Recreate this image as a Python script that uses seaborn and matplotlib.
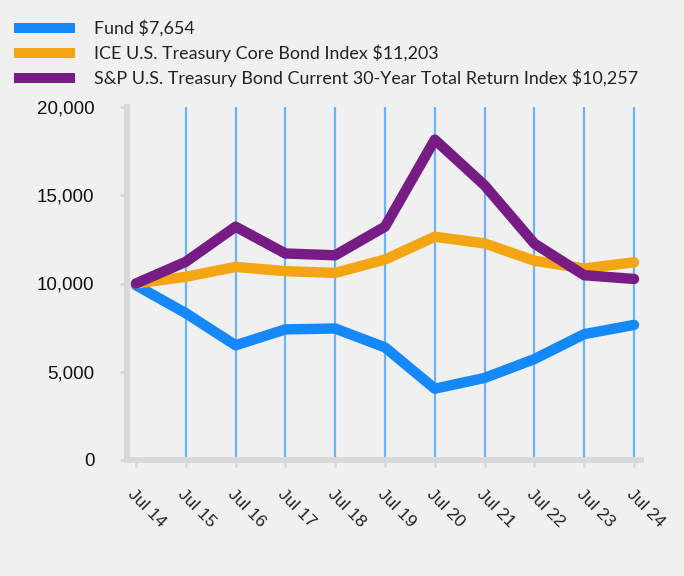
import numpy as np
import pandas as pd
import matplotlib
matplotlib.use("Agg")
import matplotlib.pyplot as plt
import seaborn as sns
from matplotlib.lines import Line2D

years = ["Jul 14", "Jul 15", "Jul 16", "Jul 17", "Jul 18", "Jul 19",
         "Jul 20", "Jul 21", "Jul 22", "Jul 23", "Jul 24"]
fund = [9900, 8320, 6500, 7400, 7450, 6380, 4040, 4650, 5720, 7130, 7654]
ice = [10000, 10380, 10940, 10700, 10600, 11360, 12650, 12270, 11290, 10850, 11203]
snp = [10000, 11230, 13220, 11700, 11600, 13220, 18150, 15560, 12260, 10470, 10257]
series_names = ["Fund $7,654", "ICE U.S. Treasury Core Bond Index $11,203",
                "S&P U.S. Treasury Bond Current 30-Year Total Return Index $10,257"]
colors = ["#1589fb", "#f4a512", "#761c84"]
yticks = [0, 5000, 10000, 15000, 20000]

rows = []
for name, vals in zip(series_names, [fund, ice, snp]):
    for i, v in enumerate(vals):
        rows.append({"x": i, "value": v, "series": name})
df = pd.DataFrame(rows)

sns.set_theme(style="white")
plt.rcParams['font.family'] = ['Liberation Sans', 'DejaVu Sans']

bg = "#f0f0f0"
fig = plt.figure(figsize=(6.84, 5.76), dpi=100, facecolor=bg)
ax = fig.add_axes([127/684, 1-460/576, (641-127)/684, (460-107)/576])
ax.set_facecolor(bg)

sns.lineplot(data=df, x="x", y="value", hue="series", palette=colors,
             linewidth=7.5, ax=ax, legend=False, zorder=3)

ax.set_xlim(-0.18, 10.14)
ax.set_ylim(0, 20000)
ax.set_xticks(range(len(years)))
ax.set_xticklabels(years, rotation=-45, ha="left", va="top",
                   rotation_mode="anchor", fontsize=12.5, color="#222222")
ax.set_yticks(yticks)
ax.set_yticklabels([f"{v:,}" for v in yticks], fontsize=13.5, color="#111111")
ax.set_xlabel("")
ax.set_ylabel("")

ax.grid(axis="x", color="#6cb2fb", linewidth=1.6, zorder=1)
ax.grid(axis="y", visible=False)
ax.set_axisbelow(True)
ax.xaxis.get_gridlines()[0].set_visible(False)

for s in ["top", "right"]:
    ax.spines[s].set_visible(False)
for s in ["left", "bottom"]:
    ax.spines[s].set_color("#d9d9d9")
    ax.spines[s].set_linewidth(4.2)
ax.tick_params(axis="both", which="both", color="#d9d9d9", width=2)
ax.tick_params(axis="y", length=5, pad=18.5, left=True)
ax.tick_params(axis="x", length=5, pad=14, bottom=True)

handles = [Line2D([0], [0], color=c, linewidth=7.2, solid_capstyle="butt") for c in colors]
leg = fig.legend(handles, series_names, loc="upper left",
                 bbox_to_anchor=(14/684, 1-20/576), frameon=False,
                 borderpad=0, borderaxespad=0,
                 handlelength=3.4, handletextpad=1.05,
                 labelspacing=0.42,
                 prop={"family": ["Lato", "DejaVu Sans"], "size": 12.9})
for t in leg.get_texts():
    t.set_color("#222222")

fig.savefig("out.png", dpi=100, facecolor=bg)
